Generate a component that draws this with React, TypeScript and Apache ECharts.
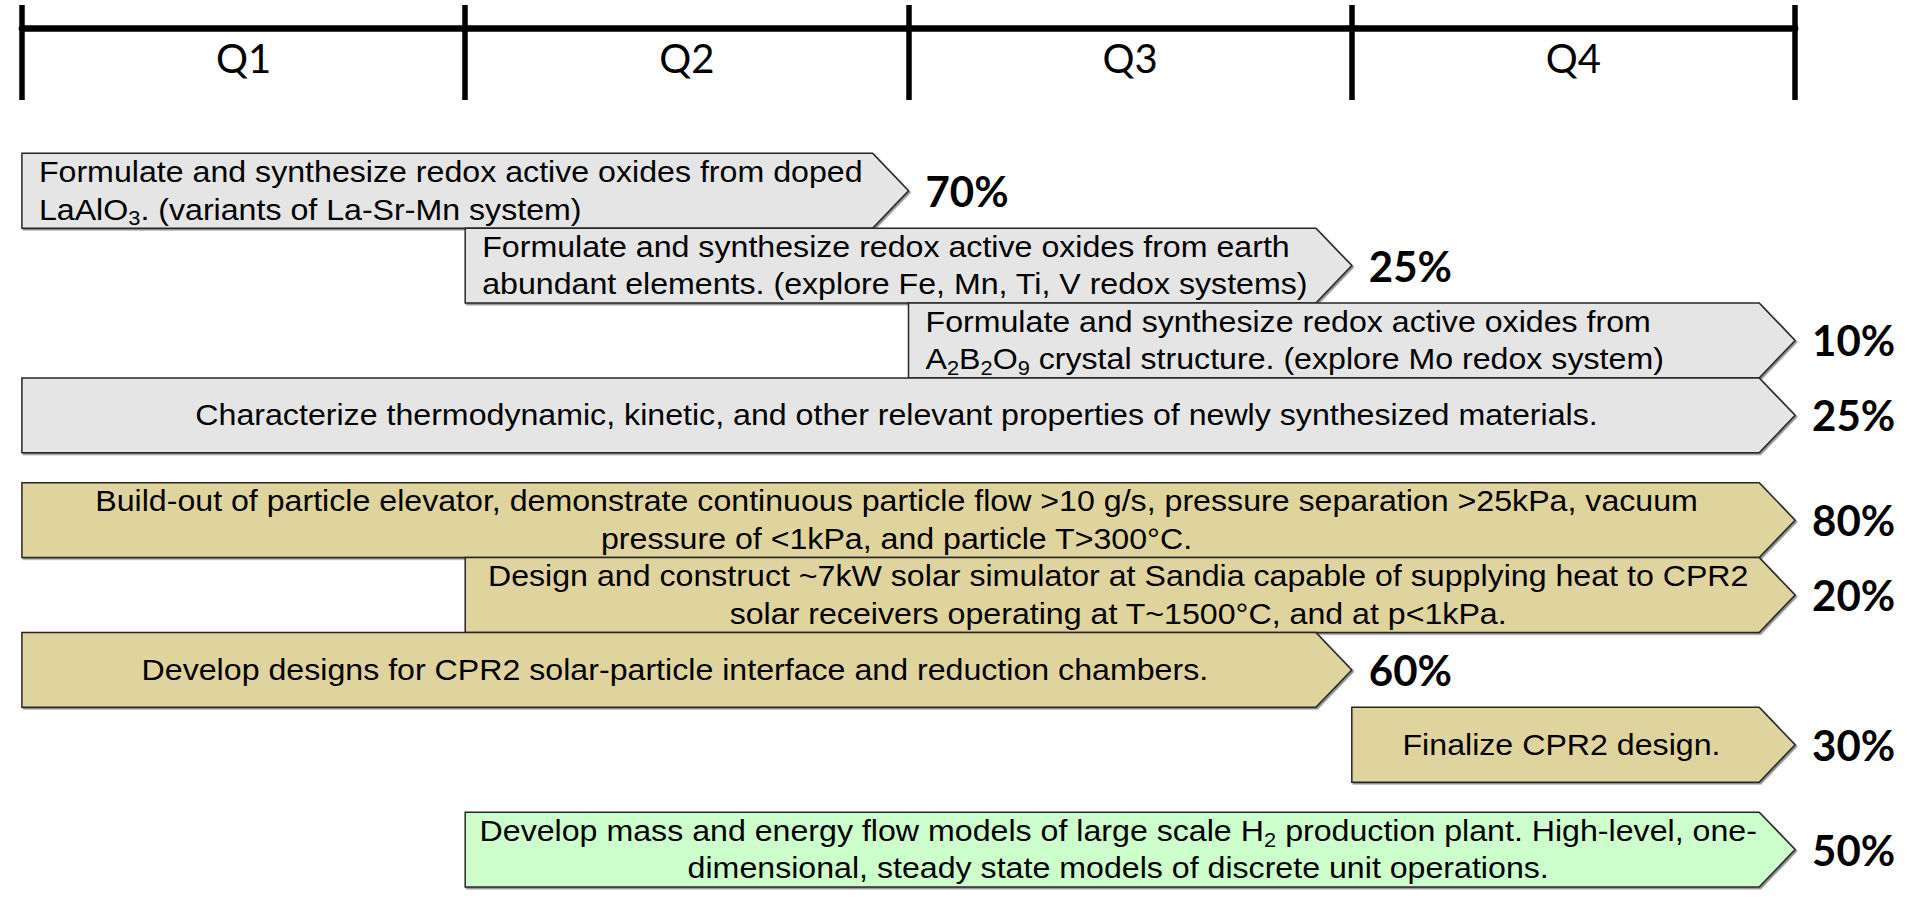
import React, { useEffect, useRef } from "react";
import * as echarts from "echarts";

// ---------- data ----------
const QUARTERS = ["Q1", "Q2", "Q3", "Q4"];

const TASK_TEXT = [
  "Formulate and synthesize redox active oxides from doped\nLaAlO{sub|3}. (variants of La-Sr-Mn system)",
  "Formulate and synthesize redox active oxides from earth\nabundant elements. (explore Fe, Mn, Ti, V redox systems)",
  "Formulate and synthesize redox active oxides from\nA{sub|2}B{sub|2}O{sub|9} crystal structure. (explore Mo redox system)",
  "Characterize thermodynamic, kinetic, and other relevant properties of newly synthesized materials.",
  "Build-out of particle elevator, demonstrate continuous particle flow >10 g/s, pressure separation >25kPa, vacuum\npressure of <1kPa, and particle T>300°C.",
  "Design and construct ~7kW solar simulator at Sandia capable of supplying heat to CPR2\nsolar receivers operating at T~1500°C, and at p<1kPa.",
  "Develop designs for CPR2 solar-particle interface and reduction chambers.",
  "Finalize CPR2 design.",
  "Develop mass and energy flow models of large scale H{sub|2} production plant. High-level, one-\ndimensional, steady state models of discrete unit operations.",
];
// start / end in quarters (0 = start of Q1, 4 = end of Q4)
const TASK_START = [0, 1, 2, 0, 0, 1, 0, 3, 1];
const TASK_END = [2, 3, 4, 4, 4, 4, 3, 4, 4];
const TASK_LANE = [0, 1, 2, 3, 4, 5, 6, 7, 8];
const TASK_GROUP = [0, 0, 0, 0, 1, 1, 1, 1, 2];
const TASK_PROGRESS = [70, 25, 10, 25, 80, 20, 60, 30, 50];

// ---------- styles / layout ----------
const GROUP_GAP = 0.4; // lanes of space between groups
const GROUP_FILL = ["#e5e5e5", "#e0d49e", "#ccffcc"];
const TEXT_ALIGN = ["left", "left", "left", "center", "center", "center", "center", "center", "center"];
const BOX_FONT = "'Liberation Sans', Arial, sans-serif";
const PCT_FONT = "Lato, 'Open Sans', sans-serif";
const TEXT_STRETCH = 1.09;

export default function App() {
  const ref = useRef<HTMLDivElement>(null);

  useEffect(() => {
    if (!ref.current) return;
    const chart = echarts.init(ref.current, undefined, { renderer: "svg" });

    const data = TASK_START.map((s, i) => [
      s,
      TASK_END[i],
      TASK_LANE[i] + TASK_GROUP[i] * GROUP_GAP,
    ]);

    const renderItem = (params: any, api: any) => {
      const i = params.dataIndex;
      const start = api.value(0);
      const end = api.value(1);
      const pos = api.value(2);
      const p0 = api.coord([start, pos]);
      const p1 = api.coord([end, pos + 1]);
      const x0 = p0[0];
      const y0 = p0[1];
      const tip = p1[0];
      const y1 = p1[1];
      const h = y1 - y0;
      const depth = h * 0.48;
      const xb = tip - depth;
      const ym = (y0 + y1) / 2;
      const align = TEXT_ALIGN[i];
      const tx = align === "left" ? x0 + 17 : (x0 + xb) / 2 + 6;
      return {
        type: "group",
        children: [
          {
            type: "polygon",
            shape: {
              points: [
                [x0, y0],
                [xb, y0],
                [tip, ym],
                [xb, y1],
                [x0, y1],
              ],
            },
            style: {
              fill: GROUP_FILL[TASK_GROUP[i]],
              stroke: "#262626",
              lineWidth: 1.5,
              shadowColor: "rgba(0,0,0,0.45)",
              shadowOffsetX: 1.5,
              shadowOffsetY: 1.5,
              shadowBlur: 1,
            },
          },
          {
            type: "text",
            x: tx,
            y: ym,
            scaleX: TEXT_STRETCH,
            style: {
              text: TASK_TEXT[i],
              fill: "#000",
              fontFamily: BOX_FONT,
              fontSize: 29.5,
              lineHeight: 37.5,
              align: align,
              verticalAlign: "middle",
              rich: {
                sub: {
                  fontFamily: BOX_FONT,
                  fontSize: 20,
                  lineHeight: 20,
                  verticalAlign: "bottom",
                  fill: "#000",
                },
              },
            },
          },
          {
            type: "text",
            x: tip + 17,
            y: ym,
            style: {
              text: TASK_PROGRESS[i] + "%",
              fill: "#000",
              fontFamily: PCT_FONT,
              fontWeight: "bold",
              fontSize: 42,
              align: "left",
              verticalAlign: "middle",
            },
          },
        ],
      };
    };

    const option: any = {
      animation: false,
      backgroundColor: "#ffffff",
      grid: [
        { left: 21.9, width: 1773.2, top: 153.3, height: 767 },
        { left: 21.9, width: 1773.2, top: 28.5, height: 71.5 },
      ],
      xAxis: [
        { gridIndex: 0, type: "value", min: 0, max: 4, show: false },
        {
          gridIndex: 1,
          type: "category",
          data: QUARTERS,
          boundaryGap: true,
          position: "bottom",
          axisLine: { show: false },
          axisTick: {
            show: true,
            inside: true,
            length: 95,
            lineStyle: { color: "#000", width: 5.5 },
          },
          axisLabel: {
            show: true,
            inside: true,
            margin: 42,
            verticalAlign: "middle",
            fontFamily: PCT_FONT,
            fontSize: 40,
            color: "#000",
          },
          splitLine: { show: false },
        },
        {
          gridIndex: 1,
          type: "category",
          data: QUARTERS,
          boundaryGap: true,
          position: "top",
          axisLine: { show: true, lineStyle: { color: "#000", width: 6.5 } },
          axisTick: { show: false },
          axisLabel: { show: false },
          splitLine: { show: false },
        },
      ],
      yAxis: [
        { gridIndex: 0, type: "value", min: 0, max: 10, inverse: true, show: false },
        { gridIndex: 1, type: "value", show: false },
      ],
      series: [
        {
          type: "custom",
          xAxisIndex: 0,
          yAxisIndex: 0,
          clip: false,
          renderItem,
          encode: { x: [0, 1], y: 2 },
          data,
        },
      ],
    };

    chart.setOption(option);
    return () => chart.dispose();
  }, []);

  return (
    <div
      ref={ref}
      style={{ position: "absolute", left: 0, top: 0, width: 1907, height: 902 }}
    />
  );
}
